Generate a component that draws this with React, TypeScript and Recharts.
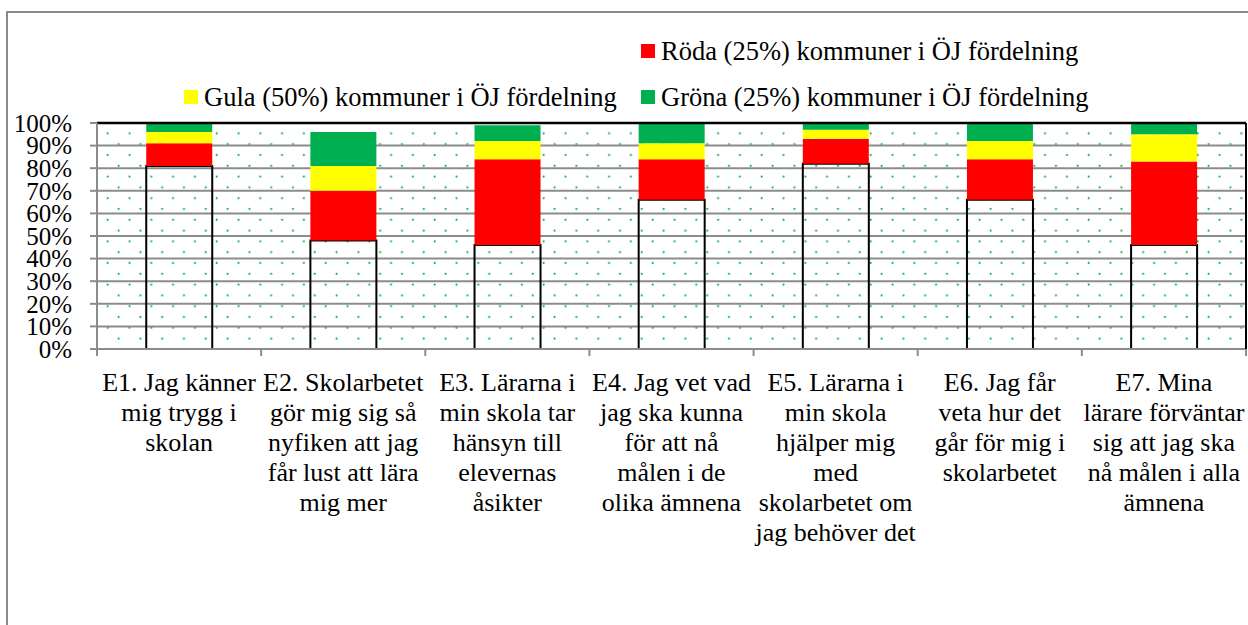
import { BarChart, Bar, XAxis, YAxis, CartesianGrid, Legend, ReferenceLine } from 'recharts';

// Kategorier (radbrytningar som i originalet)
const CATEGORY_LINES: string[][] = [
  ['E1. Jag känner', 'mig trygg i', 'skolan'],
  ['E2. Skolarbetet', 'gör mig sig så', 'nyfiken att jag', 'får lust att lära', 'mig mer'],
  ['E3. Lärarna i', 'min skola tar', 'hänsyn till', 'elevernas', 'åsikter'],
  ['E4. Jag vet vad', 'jag ska kunna', 'för att nå', 'målen i de', 'olika ämnena'],
  ['E5. Lärarna i', 'min skola', 'hjälper mig', 'med', 'skolarbetet om', 'jag behöver det'],
  ['E6. Jag får', 'veta hur det', 'går för mig i', 'skolarbetet'],
  ['E7. Mina', 'lärare förväntar', 'sig att jag ska', 'nå målen i alla', 'ämnena'],
];

// Andelar i procent
const BASE = [81, 48, 46, 66, 82, 66, 46];
const RED = [10, 22, 38, 18, 11, 18, 37];
const YELLOW = [5, 11, 8, 7, 4, 8, 12];
const GREEN = [4, 15, 7, 9, 3, 8, 5];

const Y_TICKS = [0, 10, 20, 30, 40, 50, 60, 70, 80, 90, 100];

const SERIES_NAMES = {
  red: 'Röda (25%) kommuner i ÖJ fördelning',
  yellow: 'Gula (50%) kommuner i ÖJ fördelning',
  green: 'Gröna (25%) kommuner i ÖJ fördelning',
};

const FONT = "'Liberation Serif', 'Times New Roman', Times, 'DejaVu Serif', serif";
const GRID_GRAY = '#8c8c8c';

const chartData = CATEGORY_LINES.map((lines, i) => ({
  name: lines.join(' '),
  base: BASE[i],
  red: RED[i],
  yellow: YELLOW[i],
  green: GREEN[i],
}));

// legend placement, Excel-style grid
const LEGEND_POS: Record<string, { left: number; top: number }> = {
  red: { left: 641, top: 34 },
  yellow: { left: 184, top: 80 },
  green: { left: 641, top: 80 },
};

const COLORS: Record<string, string> = {
  red: '#ff0000',
  yellow: '#ffff00',
  green: '#00b050',
};

function CategoryTick(props: any) {
  const { x, y, payload, index } = props;
  const lines = CATEGORY_LINES[index] ?? [String(payload.value)];
  const half = payload?.offset ?? 82;
  const axisY = y - 7;
  return (
    <g>
      <line x1={x - half} x2={x - half} y1={axisY} y2={axisY + 7} stroke={GRID_GRAY} strokeWidth={2} />
      {index === CATEGORY_LINES.length - 1 && (
        <line x1={x + half} x2={x + half} y1={axisY} y2={axisY + 7} stroke={GRID_GRAY} strokeWidth={2} />
      )}
      <text x={x} y={y} textAnchor="middle" fill="#000" fontSize={26} style={{ fontFamily: FONT }}>
        {lines.map((l, i) => (
          <tspan key={i} x={x} dy={i === 0 ? 35 : 30}>
            {l}
          </tspan>
        ))}
      </text>
    </g>
  );
}

function renderLegend(props: any) {
  const items = (props.payload || []).filter((p: any) => p.dataKey in LEGEND_POS);
  return (
    <div style={{ position: 'relative', width: 1248, height: 120 }}>
      {items.map((p: any) => {
        const pos = LEGEND_POS[p.dataKey];
        return (
          <div
            key={p.dataKey}
            style={{
              position: 'absolute',
              left: pos.left,
              top: pos.top,
              display: 'flex',
              alignItems: 'center',
              whiteSpace: 'nowrap',
              fontFamily: FONT,
              fontSize: 26.5,
              color: '#000',
              lineHeight: '34px',
            }}
          >
            <span style={{ display: 'inline-block', width: 14, height: 14, background: COLORS[p.dataKey], marginRight: 6 }} />
            {p.value}
          </div>
        );
      })}
    </div>
  );
}

export default function App() {
  return (
    <div style={{ position: 'absolute', left: 0, top: 0, width: 1248, height: 625, overflow: 'hidden', background: '#fff' }}>
      <div
        style={{
          position: 'absolute',
          left: 6,
          top: 11,
          width: 1300,
          height: 700,
          border: '2px solid #8a8a8a',
        }}
      />
      <div style={{ position: 'absolute', left: 0, top: 0 }}>
        <BarChart
          width={1248}
          height={625}
          data={chartData}
          margin={{ top: 123, right: 1, left: 0, bottom: 76 }}
          barCategoryGap="30%"
        >
          <defs>
            <pattern id="greenDots" patternUnits="userSpaceOnUse" width={21.8} height={21.6}>
              <circle cx={20.5} cy={3.7} r={1.1} fill="#00b050" />
              <circle cx={9.6} cy={14.5} r={1.1} fill="#00b050" />
            </pattern>
          </defs>
          <CartesianGrid vertical={false} stroke={GRID_GRAY} strokeWidth={2} fill="url(#greenDots)" />
          <XAxis
            dataKey="name"
            height={200}
            interval={0}
            tickLine={false}
            tickSize={7}
            tickMargin={0}
            axisLine={{ stroke: GRID_GRAY, strokeWidth: 2 }}
            tick={<CategoryTick />}
          />
          <YAxis
            width={97}
            domain={[0, 100]}
            ticks={Y_TICKS}
            interval={0}
            tickFormatter={(v) => `${v}%`}
            tickSize={7}
            tickMargin={18}
            tickLine={{ stroke: GRID_GRAY, strokeWidth: 2 }}
            axisLine={{ stroke: GRID_GRAY, strokeWidth: 2 }}
            tick={{ fill: '#000', fontSize: 25, style: { fontFamily: FONT } }}
          />
          <YAxis
            yAxisId="frame"
            orientation="right"
            width={1}
            domain={[0, 100]}
            tick={false}
            tickLine={false}
            axisLine={{ stroke: '#000', strokeWidth: 2 }}
          />
          <ReferenceLine y={100} stroke="#000" strokeWidth={2.5} />
          <Legend
            layout="horizontal"
            verticalAlign="middle"
            align="center"
            content={renderLegend}
            wrapperStyle={{ position: 'absolute', left: 0, top: 0, width: 1248, height: 120 }}
          />
          <Bar dataKey="base" name="Bas" stackId="a" fill="none" stroke="#000" strokeWidth={2} legendType="none" isAnimationActive={false} />
          <Bar dataKey="red" name={SERIES_NAMES.red} stackId="a" fill={COLORS.red} isAnimationActive={false} />
          <Bar dataKey="yellow" name={SERIES_NAMES.yellow} stackId="a" fill={COLORS.yellow} isAnimationActive={false} />
          <Bar dataKey="green" name={SERIES_NAMES.green} stackId="a" fill={COLORS.green} isAnimationActive={false} />
        </BarChart>
      </div>
    </div>
  );
}
